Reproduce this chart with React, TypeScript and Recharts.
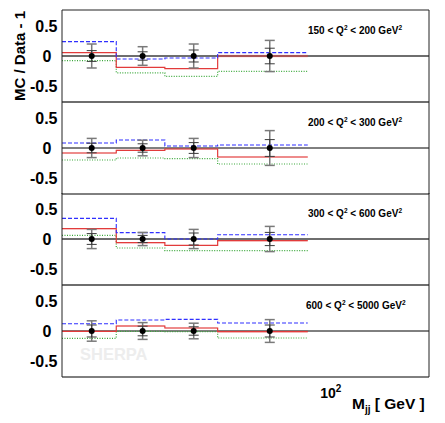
import React from "react";
import {
  ComposedChart,
  Line,
  Area,
  Scatter,
  ErrorBar,
  XAxis,
  YAxis,
  ReferenceLine,
} from "recharts";

// M_jj bin edges and data point positions (GeV)
const binEdges = [15, 22, 31, 45, 85];
const binCenters = [18.5, 26.5, 38, 65];
const q2Ranges = [
  ["150", "200"],
  ["200", "300"],
  ["300", "600"],
  ["600", "5000"],
];
const minorTicks = [20, 30, 40, 50, 60, 70, 80, 90];
const majorTicks = [100];
const yTicks = [-0.5, 0, 0.5];

// MC / Data - 1, one row per Q2 panel
const blueVals = [
  [0.24, -0.05, -0.033, 0.057],
  [0.083, 0.133, 0.033, 0.05],
  [0.344, 0.106, 0.0, 0.072],
  [0.122, 0.183, 0.194, 0.133],
];
const redVals = [
  [0.057, -0.19, -0.21, 0.0],
  [-0.083, -0.039, -0.017, -0.15],
  [0.172, -0.061, -0.106, -0.025],
  [-0.005, 0.083, 0.05, -0.01],
];
const redBand = [
  [0.008, 0.008, 0.008, 0.02],
  [0.008, 0.008, 0.008, 0.008],
  [0.008, 0.008, 0.008, 0.025],
  [0.008, 0.012, 0.008, 0.015],
];
const greenVals = [
  [-0.077, -0.28, -0.34, -0.255],
  [-0.2, -0.167, -0.178, -0.267],
  [0.061, -0.15, -0.194, -0.194],
  [-0.122, -0.005, -0.01, -0.117],
];
const totErr = [
  [0.2, 0.155, 0.2, 0.26],
  [0.16, 0.13, 0.16, 0.29],
  [0.16, 0.11, 0.16, 0.21],
  [0.17, 0.14, 0.13, 0.19],
];
const statErr = [
  [0.09, 0.07, 0.1, 0.13],
  [0.08, 0.07, 0.09, 0.14],
  [0.09, 0.06, 0.1, 0.11],
  [0.1, 0.08, 0.07, 0.1],
];

const FONT = "'Liberation Sans', Arial, sans-serif";
const TOP = 10;
const STEP = 91.5;
const PANEL_H = 92;
const Y_DOMAIN = [-0.767, 0.767];
const THIN = 0.01; // mirrored axes take (almost) no room

const YTick = ({ y, payload }: any) => {
  const zero = payload.value === 0;
  return (
    <text
      x={zero ? 47 : 57.5}
      y={y}
      dy={5.6}
      textAnchor={zero ? "middle" : "end"}
      fontSize={16}
      fontWeight="bold"
      fontFamily={FONT}
      fill="#000"
    >
      {String(payload.value)}
    </text>
  );
};

const DecadeTick = ({ x, y, payload }: any) => {
  if (payload.value !== 100) return null;
  return (
    <text x={x} y={y + 20.5} textAnchor="middle" fontSize={14} fontWeight="bold" fontFamily={FONT} fill="#000">
      10
      <tspan dy={-6} fontSize={10}>2</tspan>
    </text>
  );
};

const AxisTitle = () => (
  <text x={352} y={123.5} fontSize={15.5} fontWeight="bold" fontFamily={FONT} fill="#000">
    M
    <tspan dy={4} fontSize={10}>jj</tspan>
    <tspan dy={-4}> [ GeV ]</tspan>
  </text>
);

const YTitle = () => (
  <text
    x={25}
    y={46}
    transform="rotate(-90, 25, 46)"
    textAnchor="middle"
    fontSize={15}
    fontWeight="bold"
    fontFamily={FONT}
    fill="#000"
  >
    MC / Data - 1
  </text>
);

const Dot = (props: any) => <circle cx={props.cx} cy={props.cy} r={3} fill="#000" />;

function Panel({ idx }: { idx: number }) {
  const last = idx === 3;
  const heavy = idx === 0 || idx === 2;
  const lineColor = heavy ? "#6e6e6e" : "#000";
  const lineW = heavy ? 2 : 1;

  const steps = binEdges.map((x, i) => {
    const j = Math.min(i, binCenters.length - 1);
    return {
      x,
      blue: blueVals[idx][j],
      red: redVals[idx][j],
      green: greenVals[idx][j],
      band: [redVals[idx][j] - redBand[idx][j], redVals[idx][j] + redBand[idx][j]],
    };
  });
  const points = binCenters.map((x, i) => ({
    x,
    y: 0,
    tot: totErr[idx][i],
    stat: statErr[idx][i],
  }));

  const logAxis = {
    type: "number" as const,
    scale: "log" as const,
    domain: [15, 200],
    allowDataOverflow: true,
    interval: 0,
  };

  return (
    <div style={{ position: "absolute", left: 0, top: TOP + idx * STEP }}>
      <ComposedChart
        width={445}
        height={PANEL_H + (last ? 47 : 0)}
        data={steps}
        margin={{ top: 0, right: 16, bottom: 0, left: 0 }}
      >
        <XAxis
          dataKey="x"
          {...logAxis}
          orientation="bottom"
          mirror
          height={THIN}
          ticks={minorTicks}
          tick={false}
          tickSize={6}
          tickLine={{ stroke: "#999" }}
          axisLine={{ stroke: lineColor, strokeWidth: lineW }}
        />
        <XAxis
          xAxisId="bMajor"
          dataKey="x"
          {...logAxis}
          orientation="bottom"
          mirror
          height={THIN}
          ticks={majorTicks}
          tick={false}
          tickSize={10}
          tickLine={{ stroke: "#999" }}
          axisLine={false}
        />
        <XAxis
          xAxisId="tMinor"
          dataKey="x"
          {...logAxis}
          orientation="top"
          mirror
          height={THIN}
          ticks={minorTicks}
          tick={false}
          tickSize={6}
          tickLine={{ stroke: "#999" }}
          axisLine={idx === 0 ? { stroke: "#222" } : false}
        />
        <XAxis
          xAxisId="tMajor"
          dataKey="x"
          {...logAxis}
          orientation="top"
          mirror
          height={THIN}
          ticks={majorTicks}
          tick={false}
          tickSize={10}
          tickLine={{ stroke: "#999" }}
          axisLine={false}
        />
        {last && (
          <XAxis
            xAxisId="labels"
            dataKey="x"
            {...logAxis}
            orientation="bottom"
            height={47}
            ticks={majorTicks}
            tick={<DecadeTick />}
            tickSize={0}
            tickMargin={0}
            tickLine={false}
            axisLine={false}
            label={{ content: <AxisTitle /> }}
          />
        )}
        <YAxis
          domain={Y_DOMAIN}
          ticks={yTicks}
          width={62}
          allowDataOverflow
          interval={0}
          tick={<YTick />}
          tickLine={false}
          axisLine={{ stroke: "#222" }}
          label={idx === 0 ? { content: <YTitle /> } : undefined}
        />
        <YAxis
          yAxisId="inner"
          domain={Y_DOMAIN}
          ticks={yTicks}
          mirror
          width={THIN}
          allowDataOverflow
          interval={0}
          tick={false}
          tickSize={4}
          tickLine={{ stroke: "#999" }}
          axisLine={false}
        />
        <YAxis
          yAxisId="right"
          orientation="right"
          domain={Y_DOMAIN}
          ticks={yTicks}
          mirror
          width={THIN}
          allowDataOverflow
          interval={0}
          tick={false}
          tickSize={3}
          tickLine={{ stroke: "#999" }}
          axisLine={{ stroke: "#222" }}
        />
        <ReferenceLine y={0} stroke={lineColor} strokeWidth={lineW} />
        <Area
          dataKey="band"
          type="stepAfter"
          fill="#f3a6a6"
          fillOpacity={0.75}
          stroke="none"
          isAnimationActive={false}
          activeDot={false}
        />
        <Line dataKey="green" type="stepAfter" stroke="#3aa83a" strokeWidth={1.2} strokeDasharray="1 1.5" dot={false} activeDot={false} isAnimationActive={false} />
        <Line dataKey="red" type="stepAfter" stroke="#e23b3b" strokeWidth={1.2} dot={false} activeDot={false} isAnimationActive={false} />
        <Line dataKey="blue" type="stepAfter" stroke="#2f2fff" strokeWidth={1.1} strokeDasharray="4 2" dot={false} activeDot={false} isAnimationActive={false} />
        <Scatter data={points} dataKey="y" shape={<Dot />} isAnimationActive={false}>
          <ErrorBar dataKey="tot" direction="y" width={5} stroke="#7a7a7a" strokeWidth={1.5} isAnimationActive={false} />
          <ErrorBar dataKey="stat" direction="y" width={5} stroke="#3a3a3a" strokeWidth={1} isAnimationActive={false} />
        </Scatter>
      </ComposedChart>
    </div>
  );
}

export default function App() {
  return (
    <div style={{ position: "absolute", left: 0, top: 0, width: 445, height: 423, background: "#fff", fontFamily: FONT }}>
      <style>{`.recharts-surface{overflow:visible}`}</style>
      <svg width={445} height={423} style={{ position: "absolute", left: 0, top: 0 }}>
        <text x={80} y={360} fontSize={16.5} fontWeight="bold" fontFamily={FONT} fill="#ededed">
          SHERPA
        </text>
      </svg>
      {q2Ranges.map((_, i) => (
        <Panel key={i} idx={i} />
      ))}
      <svg width={445} height={423} style={{ position: "absolute", left: 0, top: 0, pointerEvents: "none" }}>
        {q2Ranges.map(([lo, hi], i) => (
          <text key={i} x={i === 3 ? 306 : 308} y={TOP + i * STEP + 24} fontSize={10} fontWeight="bold" fontFamily={FONT} fill="#000">
            {lo} &lt; Q
            <tspan dy={-4} fontSize={6.5}>2</tspan>
            <tspan dy={4}> &lt; {hi} GeV</tspan>
            <tspan dy={-4} fontSize={6.5}>2</tspan>
          </text>
        ))}
      </svg>
    </div>
  );
}
